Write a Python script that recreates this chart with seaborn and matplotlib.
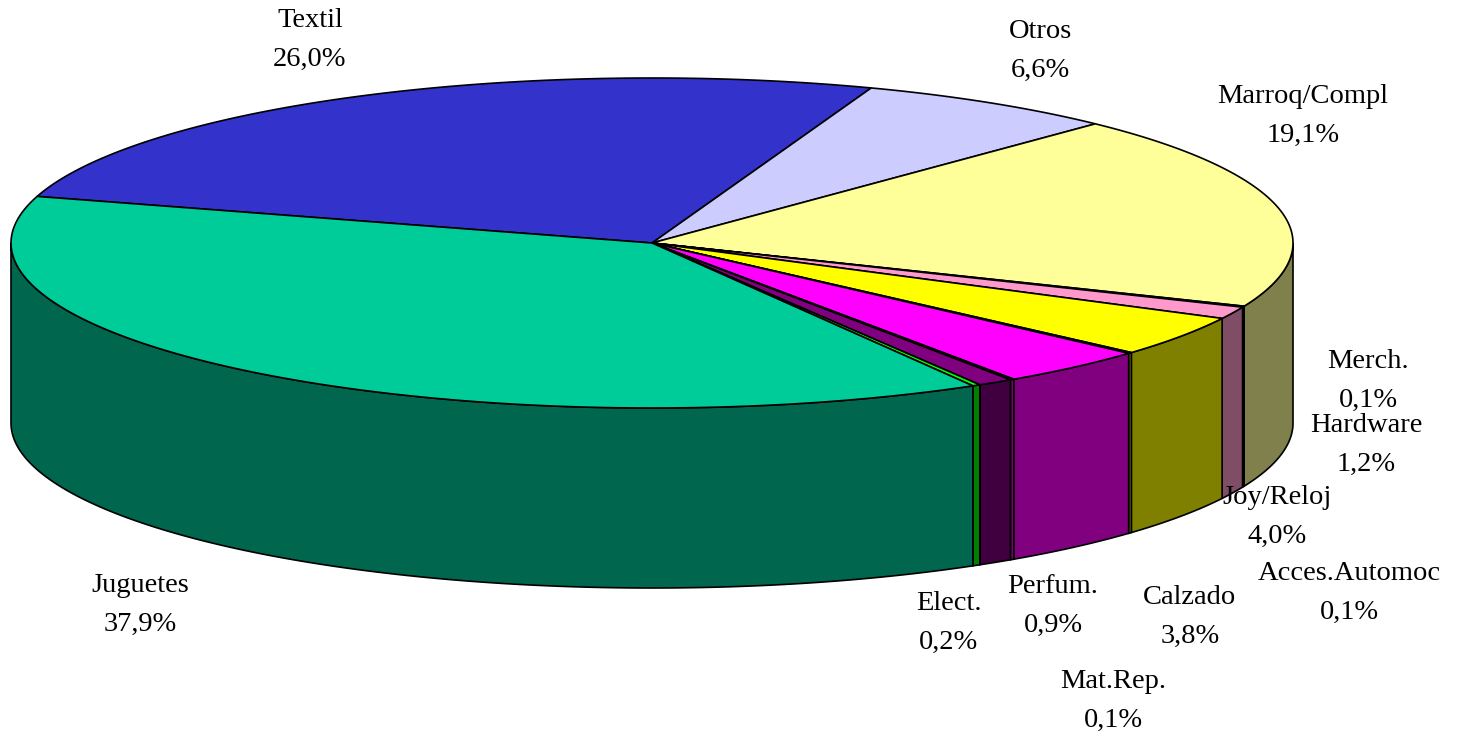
import numpy as np
import matplotlib.pyplot as plt
from matplotlib.patches import Polygon
from matplotlib.colors import to_rgb
import seaborn as sns

# slices in clockwise order, starting with Textil
categories = ['Textil', 'Otros', 'Marroq/Compl', 'Merch.', 'Hardware', 'Joy/Reloj',
              'Acces.Automoc', 'Calzado', 'Mat.Rep.', 'Perfum.', 'Elect.', 'Juguetes']
shares = [26.0, 6.6, 19.1, 0.1, 1.2, 4.0, 0.1, 3.8, 0.1, 0.9, 0.2, 37.9]
top_colors = ['#3333CC', '#CCCCFF', '#FFFF99', '#FF99CC', '#FF99CC', '#FFFF00',
              '#FFFF00', '#FF00FF', '#FF00FF', '#800080', '#00FF00', '#00CC99']

# where Excel put each label (centre of the two-line block, in pixels)
label_pos = {
    'Textil': (310, 40), 'Otros': (1040, 51), 'Marroq/Compl': (1303, 116),
    'Merch.': (1368, 381), 'Hardware': (1366, 445), 'Joy/Reloj': (1277, 517),
    'Acces.Automoc': (1349, 593), 'Calzado': (1190, 617), 'Mat.Rep.': (1113, 701),
    'Perfum.': (1053, 606), 'Elect.': (949, 623), 'Juguetes': (140, 605),
}

sns.set_theme(style='white')
plt.rcParams['font.family'] = ['Liberation Serif', 'DejaVu Serif']

# pie geometry (pixel space)
cx, cy, rx, ry, depth = 652, 243, 641, 165, 180
start_angle = 163.6


def arc(t0, t1, dy=0, n=120):
    t = np.radians(np.linspace(t0, t1, n))
    return np.column_stack([cx + rx * np.cos(t), cy - ry * np.sin(t) + dy])


fig = plt.figure(figsize=(14.57, 7.36), dpi=100)
ax = fig.add_axes([0, 0, 1, 1])
ax.set_xlim(0, 1457)
ax.set_ylim(736, 0)
ax.axis('off')

bounds = start_angle - np.concatenate([[0], np.cumsum(shares)]) * 3.6

# front walls (only the half facing the viewer)
for i, col in enumerate(top_colors):
    t_hi, t_lo = bounds[i], bounds[i + 1]
    side = tuple(0.5 * c for c in to_rgb(col))
    for k in range(-2, 3):
        a = max(t_lo, 180 + 360 * k)
        b = min(t_hi, 360 + 360 * k)
        if b > a:
            pts = np.vstack([arc(a, b), arc(b, a, dy=depth)])
            ax.add_patch(Polygon(pts, closed=True, facecolor=side,
                                 edgecolor='black', lw=1.2, zorder=1))

# top faces
for i, col in enumerate(top_colors):
    t_hi, t_lo = bounds[i], bounds[i + 1]
    pts = np.vstack([[cx, cy], arc(t_hi, t_lo)])
    ax.add_patch(Polygon(pts, closed=True, facecolor=col,
                         edgecolor='black', lw=1.2, zorder=2))

for name, val in zip(categories, shares):
    x, y = label_pos[name]
    pct = f"{val:.1f}".replace('.', ',') + '%'
    ax.text(x, y, f"{name}\n{pct}", ha='center', va='center', fontsize=20.5,
            linespacing=1.75, color='black', zorder=5)

plt.savefig('out.png', dpi=100)
